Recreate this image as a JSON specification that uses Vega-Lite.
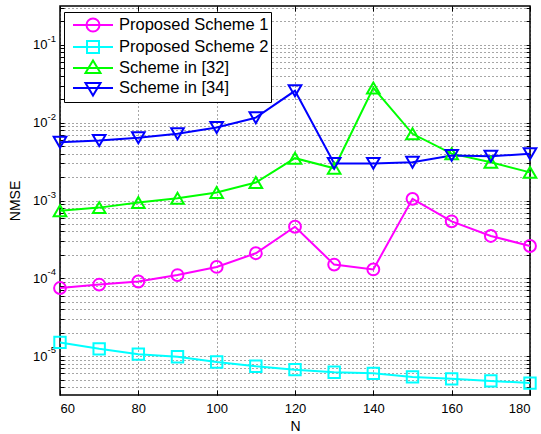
{
  "$schema": "https://vega.github.io/schema/vega-lite/v6.json",
  "width": 470,
  "height": 389,
  "autosize": {"type": "none"},
  "padding": {"left": 60, "top": 6, "right": 11, "bottom": 39},
  "background": "white",
  "config": {
    "font": "Liberation Sans",
    "view": {"stroke": "black", "strokeWidth": 1.5},
    "axis": {
      "labelFont": "Liberation Sans",
      "titleFont": "Liberation Sans",
      "labelColor": "black",
      "titleColor": "black",
      "labelFontSize": 13,
      "titleFontSize": 14,
      "titleFontWeight": "normal",
      "domain": false,
      "tickColor": "black",
      "gridColor": "black",
      "gridDash": [1, 3],
      "gridOpacity": 0.7,
      "gridWidth": 1
    }
  },
  "data": {
    "values": [
      {"N": 60, "series": "Proposed Scheme 1", "nmse": 0.000075},
      {"N": 70, "series": "Proposed Scheme 1", "nmse": 0.000083},
      {"N": 80, "series": "Proposed Scheme 1", "nmse": 0.000091},
      {"N": 90, "series": "Proposed Scheme 1", "nmse": 0.00011},
      {"N": 100, "series": "Proposed Scheme 1", "nmse": 0.00014},
      {"N": 110, "series": "Proposed Scheme 1", "nmse": 0.00021},
      {"N": 120, "series": "Proposed Scheme 1", "nmse": 0.00046},
      {"N": 130, "series": "Proposed Scheme 1", "nmse": 0.00015},
      {"N": 140, "series": "Proposed Scheme 1", "nmse": 0.00013},
      {"N": 150, "series": "Proposed Scheme 1", "nmse": 0.00105},
      {"N": 160, "series": "Proposed Scheme 1", "nmse": 0.00054},
      {"N": 170, "series": "Proposed Scheme 1", "nmse": 0.00035},
      {"N": 180, "series": "Proposed Scheme 1", "nmse": 0.00026},
      {"N": 60, "series": "Proposed Scheme 2", "nmse": 0.000015},
      {"N": 70, "series": "Proposed Scheme 2", "nmse": 0.0000124},
      {"N": 80, "series": "Proposed Scheme 2", "nmse": 0.0000106},
      {"N": 90, "series": "Proposed Scheme 2", "nmse": 0.0000098},
      {"N": 100, "series": "Proposed Scheme 2", "nmse": 0.0000084},
      {"N": 110, "series": "Proposed Scheme 2", "nmse": 0.0000074},
      {"N": 120, "series": "Proposed Scheme 2", "nmse": 0.0000067},
      {"N": 130, "series": "Proposed Scheme 2", "nmse": 0.0000062},
      {"N": 140, "series": "Proposed Scheme 2", "nmse": 0.000006},
      {"N": 150, "series": "Proposed Scheme 2", "nmse": 0.0000054},
      {"N": 160, "series": "Proposed Scheme 2", "nmse": 0.0000051},
      {"N": 170, "series": "Proposed Scheme 2", "nmse": 0.0000048},
      {"N": 180, "series": "Proposed Scheme 2", "nmse": 0.0000045},
      {"N": 60, "series": "Scheme in [32]", "nmse": 0.00074},
      {"N": 70, "series": "Scheme in [32]", "nmse": 0.00081},
      {"N": 80, "series": "Scheme in [32]", "nmse": 0.00094},
      {"N": 90, "series": "Scheme in [32]", "nmse": 0.00107},
      {"N": 100, "series": "Scheme in [32]", "nmse": 0.00127},
      {"N": 110, "series": "Scheme in [32]", "nmse": 0.0017},
      {"N": 120, "series": "Scheme in [32]", "nmse": 0.0035},
      {"N": 130, "series": "Scheme in [32]", "nmse": 0.0026},
      {"N": 140, "series": "Scheme in [32]", "nmse": 0.028},
      {"N": 150, "series": "Scheme in [32]", "nmse": 0.0072},
      {"N": 160, "series": "Scheme in [32]", "nmse": 0.004},
      {"N": 170, "series": "Scheme in [32]", "nmse": 0.0031},
      {"N": 180, "series": "Scheme in [32]", "nmse": 0.0023},
      {"N": 60, "series": "Scheme in [34]", "nmse": 0.0056},
      {"N": 70, "series": "Scheme in [34]", "nmse": 0.0059},
      {"N": 80, "series": "Scheme in [34]", "nmse": 0.0064},
      {"N": 90, "series": "Scheme in [34]", "nmse": 0.0072},
      {"N": 100, "series": "Scheme in [34]", "nmse": 0.0087},
      {"N": 110, "series": "Scheme in [34]", "nmse": 0.0116},
      {"N": 120, "series": "Scheme in [34]", "nmse": 0.0257},
      {"N": 130, "series": "Scheme in [34]", "nmse": 0.003},
      {"N": 140, "series": "Scheme in [34]", "nmse": 0.003},
      {"N": 150, "series": "Scheme in [34]", "nmse": 0.0031},
      {"N": 160, "series": "Scheme in [34]", "nmse": 0.0038},
      {"N": 170, "series": "Scheme in [34]", "nmse": 0.0037},
      {"N": 180, "series": "Scheme in [34]", "nmse": 0.004}
    ]
  },
  "encoding": {
    "x": {
      "field": "N",
      "type": "quantitative",
      "scale": {"domain": [60, 180], "nice": false, "zero": false},
      "axis": null
    },
    "y": {
      "field": "nmse",
      "type": "quantitative",
      "scale": {"type": "log", "domain": [0.0000031623, 0.31623], "nice": false},
      "axis": null
    },
    "color": {
      "field": "series",
      "type": "nominal",
      "scale": {
        "domain": ["Proposed Scheme 1", "Proposed Scheme 2", "Scheme in [32]", "Scheme in [34]"],
        "range": ["#ff00ff", "#00ffff", "#00ff00", "#0000ff"]
      },
      "legend": {
        "title": null,
        "orient": "none",
        "legendX": 4,
        "legendY": 6,
        "padding": 2,
        "strokeColor": "black",
        "fillColor": "white",
        "symbolSize": 400,
        "symbolStrokeWidth": 2,
        "symbolFillColor": "transparent",
        "labelFont": "Liberation Sans",
        "labelFontSize": 16.5,
        "labelColor": "black",
        "labelOffset": 31,
        "rowPadding": -1,
        "labelLimit": 300,
        "encode": {
          "symbols": {
            "update": {
              "fill": {"value": "transparent"},
              "opacity": {"value": 1},
              "strokeWidth": {"value": 2}
            }
          }
        }
      }
    }
  },
  "layer": [
    {
      "mark": {"type": "line", "strokeWidth": 2},
      "encoding": {
        "x": {
          "field": "N",
          "type": "quantitative",
          "axis": {"values": [60, 80, 100, 120, 140, 160, 180], "title": "N", "grid": true, "ticks": true, "tickSize": -5, "labelPadding": 12, "titlePadding": 4}
        },
        "y": {
          "field": "nmse",
          "type": "quantitative",
          "axis": {
            "title": "NMSE",
            "grid": true,
            "ticks": true,
            "tickSize": -4,
            "labelPadding": 17,
            "titlePadding": 10,
            "values": [0.000004, 0.000005, 0.000006, 0.000007, 0.000008, 0.000009,
                       0.00001, 0.00002, 0.00003, 0.00004, 0.00005, 0.00006, 0.00007, 0.00008, 0.00009,
                       0.0001, 0.0002, 0.0003, 0.0004, 0.0005, 0.0006, 0.0007, 0.0008, 0.0009,
                       0.001, 0.002, 0.003, 0.004, 0.005, 0.006, 0.007, 0.008, 0.009,
                       0.01, 0.02, 0.03, 0.04, 0.05, 0.06, 0.07, 0.08, 0.09,
                       0.1, 0.2, 0.3],
            "labelExpr": "abs(log(datum.value)/LN10 - round(log(datum.value)/LN10)) < 0.001 ? '10' : ''"
          }
        },
        "detail": {"field": "series"}
      }
    },
    {
      "layer": [
        {
          "transform": [{"filter": "datum.series == 'Proposed Scheme 1'"}],
          "mark": {"type": "point", "shape": "circle", "filled": false, "strokeWidth": 2, "size": 140, "opacity": 1}
        },
        {
          "transform": [{"filter": "datum.series == 'Proposed Scheme 2'"}],
          "mark": {"type": "point", "shape": "square", "filled": false, "strokeWidth": 2, "size": 130, "opacity": 1}
        },
        {
          "transform": [{"filter": "datum.series == 'Scheme in [32]'"}],
          "mark": {"type": "point", "shape": "triangle-up", "filled": false, "strokeWidth": 2, "size": 160, "opacity": 1}
        },
        {
          "transform": [{"filter": "datum.series == 'Scheme in [34]'"}],
          "mark": {"type": "point", "shape": "triangle-down", "filled": false, "strokeWidth": 2, "size": 160, "opacity": 1}
        }
      ]
    },
    {
      "mark": {"type": "point", "filled": false, "strokeWidth": 2, "opacity": 0},
      "encoding": {
        "y": {
          "field": "nmse",
          "type": "quantitative",
          "axis": {
            "orient": "left",
            "title": null,
            "grid": false,
            "ticks": false,
            "labelPadding": 13,
            "labelAlign": "left",
            "labelFontSize": 9.5,
            "labelOffset": -6.5,
            "values": [0.00001, 0.0001, 0.001, 0.01, 0.1],
            "labelExpr": "'-' + (-round(log(datum.value)/LN10))"
          }
        },
        "shape": {
          "field": "series",
          "type": "nominal",
          "scale": {
            "domain": ["Proposed Scheme 1", "Proposed Scheme 2", "Scheme in [32]", "Scheme in [34]"],
            "range": [
              "M-0.4,0L3.6,0M2.25,0A0.65,0.65,0,1,1,0.95,0A0.65,0.65,0,1,1,2.25,0Z",
              "M-0.4,0L3.6,0M1,-0.6L2.2,-0.6L2.2,0.6L1,0.6Z",
              "M-0.4,0L3.6,0M1.6,-0.75L2.35,0.5L0.85,0.5Z",
              "M-0.4,0L3.6,0M1.6,0.75L2.35,-0.5L0.85,-0.5Z"
            ]
          },
          "legend": {
            "title": null,
            "orient": "none",
            "legendX": 4,
            "legendY": 6,
            "padding": 2,
            "strokeColor": "black",
            "fillColor": "white",
            "symbolSize": 400,
            "symbolStrokeWidth": 2,
            "symbolFillColor": "transparent",
            "labelFont": "Liberation Sans",
            "labelFontSize": 16.5,
            "labelColor": "black",
            "labelOffset": 31,
            "rowPadding": -1,
            "labelLimit": 300,
            "encode": {
              "symbols": {
                "update": {
                  "fill": {"value": "transparent"},
                  "opacity": {"value": 1},
                  "strokeWidth": {"value": 2}
                }
              }
            }
          }
        }
      }
    },
    {
      "mark": {"type": "point", "opacity": 0},
      "encoding": {
        "x": {
          "field": "N",
          "type": "quantitative",
          "axis": {"orient": "top", "values": [60, 80, 100, 120, 140, 160, 180], "title": null, "labels": false, "grid": false, "ticks": true, "tickSize": -5}
        },
        "y": {
          "field": "nmse",
          "type": "quantitative",
          "axis": {
            "orient": "right",
            "title": null,
            "labels": false,
            "grid": false,
            "ticks": true,
            "tickSize": -4,
            "values": [0.000004, 0.000005, 0.000006, 0.000007, 0.000008, 0.000009,
                       0.00001, 0.00002, 0.00003, 0.00004, 0.00005, 0.00006, 0.00007, 0.00008, 0.00009,
                       0.0001, 0.0002, 0.0003, 0.0004, 0.0005, 0.0006, 0.0007, 0.0008, 0.0009,
                       0.001, 0.002, 0.003, 0.004, 0.005, 0.006, 0.007, 0.008, 0.009,
                       0.01, 0.02, 0.03, 0.04, 0.05, 0.06, 0.07, 0.08, 0.09,
                       0.1, 0.2, 0.3]
          }
        }
      }
    }
  ],
  "resolve": {"axis": {"x": "independent", "y": "independent"}}
}
